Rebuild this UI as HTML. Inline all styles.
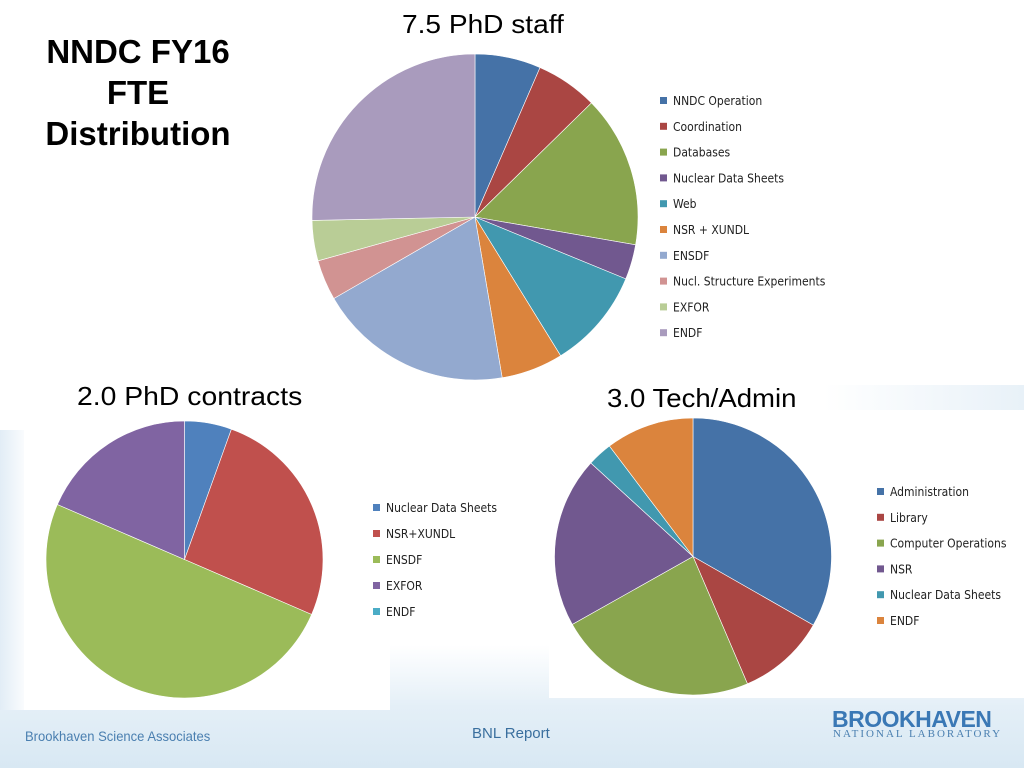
<!DOCTYPE html>
<html><head><meta charset="utf-8">
<style>
html,body{margin:0;padding:0}
body{width:1024px;height:768px;position:relative;overflow:hidden;font-family:"Liberation Sans",sans-serif;
background:linear-gradient(180deg,#ffffff 0%,#ffffff 84%,#e4eff7 92%,#d8e8f3 100%);}
.bgl{position:absolute;left:0;top:430px;width:30px;height:280px;background:linear-gradient(90deg,#e2edf6,#ffffff)}
.bgr{position:absolute;right:0;top:385px;width:200px;height:25px;background:linear-gradient(90deg,#ffffff,#e8f1f8)}
.panel{position:absolute;background:#fff}
.t{position:absolute;white-space:nowrap;color:#000}
svg{position:absolute;left:0;top:0}
</style></head>
<body>
<div class="bgl"></div>
<div class="bgr"></div>
<div class="panel" style="left:24px;top:412px;width:366px;height:298px"></div>
<div class="panel" style="left:549px;top:410px;width:475px;height:288px"></div>

<div class="t" style="left:28px;top:31px;width:220px;text-align:center;font-weight:bold;font-size:33px;line-height:41px">NNDC FY16<br>FTE<br>Distribution</div>
<div class="t" style="left:402px;top:9px;font-size:26px;transform:scaleX(1.08);transform-origin:left">7.5 PhD staff</div>
<div class="t" style="left:77px;top:381px;font-size:26px;transform:scaleX(1.09);transform-origin:left">2.0 PhD contracts</div>
<div class="t" style="left:607px;top:383px;font-size:26px;transform:scaleX(1.06);transform-origin:left">3.0 Tech/Admin</div>

<div class="t" style="left:25px;top:728px;font-size:14px;color:#4a7fb0;transform:scaleX(0.93);transform-origin:left">Brookhaven Science Associates</div>
<div class="t" style="left:472px;top:725px;font-size:15px;color:#3a6f9e">BNL Report</div>
<div class="t" style="left:832px;top:706px;font-size:23px;font-weight:bold;color:#3a78b5;letter-spacing:-0.5px;transform:scaleX(1.0);transform-origin:left">BROOKHAVEN</div>
<div class="t" style="left:833px;top:728px;font-size:11px;font-family:'Liberation Serif',serif;color:#4a7fb0;letter-spacing:2px">NATIONAL LABORATORY</div>

<svg id="chart" width="1024" height="768"></svg>

<script>
const staffLabels=["NNDC Operation","Coordination","Databases","Nuclear Data Sheets","Web","NSR + XUNDL","ENSDF","Nucl. Structure Experiments","EXFOR","ENDF"];
const staffValues=[0.49,0.46,1.13,0.26,0.75,0.46,1.45,0.30,0.30,1.90];
const staffColors=["#4572a7","#aa4643","#89a54e","#71588f","#4198af","#db843d","#93a9cf","#d19392","#b9cd96","#a99bbd"];

const contractLabels=["Nuclear Data Sheets","NSR+XUNDL","ENSDF","EXFOR","ENDF"];
const contractValues=[0.11,0.52,1.0,0.37,0];
const contractColors=["#4f81bd","#c0504d","#9bbb59","#8064a2","#4bacc6"];

const techLabels=["Administration","Library","Computer Operations","NSR","Nuclear Data Sheets","ENDF"];
const techValues=[1.0,0.31,0.70,0.60,0.087,0.31];
const techColors=["#4572a7","#aa4643","#89a54e","#71588f","#4198af","#db843d"];

const NS="http://www.w3.org/2000/svg";
const svg=document.getElementById('chart');
function pt(cx,cy,r,a){return [cx+r*Math.sin(a),cy-r*Math.cos(a)];}
function pie(id,cx,cy,r,vals,cols,labels,lx,ly,step){
  const tot=vals.reduce((a,b)=>a+b,0);
  let a0=0;
  vals.forEach((v,i)=>{
    if(v<=0)return;
    const a1=a0+v/tot*2*Math.PI;
    const p0=pt(cx,cy,r,a0),p1=pt(cx,cy,r,a1);
    const large=(a1-a0)>Math.PI?1:0;
    const path=document.createElementNS(NS,'path');
    path.setAttribute('d',`M${cx},${cy}L${p0[0]},${p0[1]}A${r},${r} 0 ${large} 1 ${p1[0]},${p1[1]}Z`);
    path.setAttribute('fill',cols[i]);
    path.setAttribute('stroke','#ffffff');
    path.setAttribute('stroke-width','0.6');
    
    
    svg.appendChild(path);
    a0=a1;
  });
  labels.forEach((l,i)=>{
    const y=ly+i*step;
    const rc=document.createElementNS(NS,'rect');
    rc.setAttribute('x',lx);rc.setAttribute('y',y-4);rc.setAttribute('width',7);rc.setAttribute('height',7);
    rc.setAttribute('fill',cols[i]);
    
    
    svg.appendChild(rc);
    const t=document.createElementNS(NS,'text');
    t.setAttribute('x',lx+13);t.setAttribute('y',y+4);
    t.setAttribute('font-size','12');t.setAttribute('fill','#222');
    t.setAttribute('font-family','"DejaVu Sans Condensed","Liberation Sans",sans-serif');
    t.textContent=l;
    
    
    svg.appendChild(t);
  });
}
pie('staff',475,217,163,staffValues,staffColors,staffLabels,660,101,25.8);
pie('contracts',184.5,559.5,138.5,contractValues,contractColors,contractLabels,373,508,26);
pie('tech',693,556.5,138.5,techValues,techColors,techLabels,877,492,25.8);
</script>
</body></html>
